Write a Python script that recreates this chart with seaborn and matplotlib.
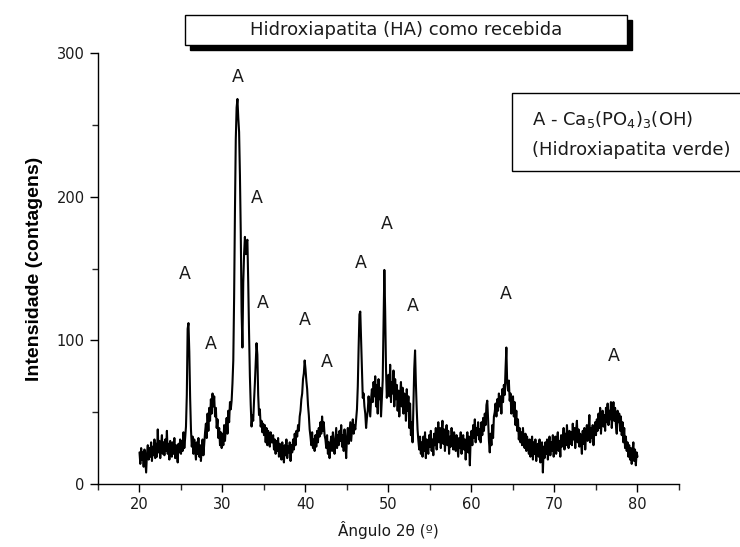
import numpy as np
import pandas as pd
import matplotlib
matplotlib.use("Agg")
import matplotlib.pyplot as plt
from matplotlib.patches import Rectangle
from matplotlib.ticker import MultipleLocator
import seaborn as sns

# ---- data: intensity, 2theta = 20.0 .. 80.0 step 0.1 ----
two_theta_start = 20.0
two_theta_step = 0.1
intensity = [
    22, 14, 25, 17, 22, 12, 24, 16, 8, 21,
    27, 17, 25, 19, 29, 16, 26, 20, 31, 18,
    28, 19, 38, 22, 30, 18, 27, 34, 21, 29,
    20, 31, 23, 37, 21, 28, 17, 30, 24, 19,
    29, 21, 32, 18, 27, 23, 15, 28, 22, 31,
    21, 30, 23, 36, 25, 32, 40, 62, 108, 112,
    92, 60, 38, 26, 33, 21, 31, 24, 17, 29,
    21, 32, 19, 27, 16, 25, 31, 20, 28, 36,
    42, 32, 49, 37, 53, 44, 59, 49, 63, 54,
    61, 47, 53, 39, 45, 32, 39, 27, 36, 25,
    35, 27, 41, 30, 39, 46, 35, 51, 43, 57,
    52, 58, 70, 86, 130, 190, 240, 262, 268, 255,
    245, 215, 175, 120, 95, 140, 160, 172, 160, 168,
    170, 140, 105, 75, 55, 40, 48, 44, 58, 70,
    85, 98, 90, 62, 48, 52, 40, 44, 36, 42,
    34, 41, 29, 39, 27, 37, 31, 26, 36, 29,
    29, 34, 24, 31, 21, 30, 23, 32, 19, 28,
    25, 17, 29, 21, 15, 27, 20, 31, 18, 26,
    22, 29, 16, 27, 22, 31, 24, 35, 27, 37,
    33, 41, 37, 47, 51, 59, 63, 73, 77, 86,
    80, 72, 66, 55, 48, 38, 33, 27, 36, 25,
    31, 23, 34, 26, 37, 29, 39, 33, 43, 35,
    47, 37, 43, 34, 31, 25, 34, 21, 29, 18,
    28, 33, 23, 36, 29, 21, 30, 39, 25, 34,
    27, 37, 30, 41, 26, 34, 23, 38, 29, 18,
    33, 39, 28, 36, 43, 30, 38, 45, 35, 41,
    38, 45, 52, 68, 95, 118, 120, 100, 80, 60,
    63, 54, 49, 39, 46, 51, 61, 54, 47, 59,
    66, 57, 71, 61, 75, 54, 69, 49, 73, 59,
    67, 47, 59, 72, 110, 149, 120, 80, 60, 70,
    76, 61, 83, 57, 71, 63, 79, 54, 73, 59,
    69, 51, 65, 47, 61, 71, 54, 67, 49, 63,
    59, 44, 66, 51, 61, 39, 56, 34, 43, 29,
    55, 80, 93, 70, 52, 38, 30, 24, 33, 21,
    29, 19, 33, 23, 36, 18, 31, 25, 21, 34,
    26, 37, 23, 31, 20, 35, 27, 39, 24, 32,
    43, 29, 39, 25, 36, 44, 28, 38, 23, 34,
    41, 27, 37, 21, 33, 26, 39, 29, 24, 36,
    31, 23, 34, 26, 19, 32, 25, 36, 21, 30,
    34, 24, 31, 17, 29, 36, 22, 33, 13, 31,
    37, 27, 41, 32, 45, 29, 39, 34, 43, 31,
    38, 29, 43, 34, 46, 37, 49, 41, 55, 58,
    45, 30, 22, 35, 27, 41, 32, 47, 50, 56,
    47, 59, 51, 63, 54, 61, 49, 66, 57, 69,
    62, 80, 95, 70, 65, 72, 58, 63, 49, 56,
    61, 47, 57, 41, 51, 37, 45, 31, 39, 29,
    36, 27, 39, 29, 25, 35, 23, 33, 27, 21,
    31, 19, 27, 33, 17, 29, 21, 31, 16, 26,
    28, 19, 31, 15, 25, 29, 8, 26, 18, 29,
    21, 31, 17, 27, 33, 20, 29, 23, 34, 19,
    27, 33, 21, 31, 36, 23, 30, 19, 34, 26,
    31, 39, 24, 35, 27, 41, 30, 25, 37, 28,
    36, 27, 42, 31, 39, 25, 37, 44, 29, 38,
    26, 35, 29, 21, 37, 28, 39, 24, 34, 41,
    30, 37, 48, 29, 39, 32, 41, 27, 37, 43,
    34, 45, 37, 49, 39, 53, 35, 46, 51, 40,
    48, 37, 53, 43, 56, 41, 51, 45, 57, 39,
    49, 57, 44, 53, 41, 35, 51, 43, 49, 37,
    47, 34, 43, 29, 39, 25, 33, 23, 29, 19,
    27, 17, 25, 14, 23, 29, 16, 24, 13, 22,
    19,
]

# peak markers "A": (2theta, intensity) of label centres
peak_x = [25.5, 28.55, 31.9, 34.1, 34.8, 39.9, 42.6, 46.7, 49.8, 52.9, 64.1, 77.2]
peak_y = [146, 97.6, 283, 199, 126, 114, 85, 154, 181, 124, 132, 89]
peak_label = "A"

title_text = "Hidroxiapatita (HA) como recebida"
legend_line1 = "A - Ca$_5$(PO$_4$)$_3$(OH)"
legend_line2 = "(Hidroxiapatita verde)"
x_label = "Ângulo 2θ (º)"
y_label = "Intensidade (contagens)"

x_ticks = [20, 30, 40, 50, 60, 70, 80]
y_ticks = [0, 100, 200, 300]

# ---- build ----
two_theta = two_theta_start + two_theta_step * np.arange(len(intensity))
df = pd.DataFrame({"two_theta": two_theta, "intensity": intensity})

sns.set_style("ticks")
plt.rcParams["font.family"] = ["DejaVu Sans"]
plt.rcParams["mathtext.default"] = "regular"
text_color = "#1a1a1a"

fig = plt.figure(figsize=(7.4, 5.47), dpi=100)
ax = fig.add_axes([98 / 740, 1 - 484 / 547, (679 - 98) / 740, (484 - 53) / 547])

sns.lineplot(data=df, x="two_theta", y="intensity", ax=ax, color="black",
             linewidth=1.5, estimator=None, sort=False)

ax.set_xlim(15, 85)
ax.set_ylim(0, 300)
ax.set_xticks(x_ticks)
ax.set_yticks(y_ticks)
ax.xaxis.set_minor_locator(MultipleLocator(5))
ax.yaxis.set_minor_locator(MultipleLocator(50))
ax.tick_params(axis="both", which="major", direction="out", length=6, width=1,
               labelsize=10.5, colors="black", labelcolor=text_color)
ax.tick_params(axis="both", which="minor", direction="out", length=4, width=1)
for s in ["top", "right"]:
    ax.spines[s].set_visible(False)
for s in ["left", "bottom"]:
    ax.spines[s].set_linewidth(1)
    ax.spines[s].set_color("black")

ax.set_xlabel(x_label, fontsize=11, labelpad=6, color=text_color)
ax.set_ylabel(y_label, fontsize=14, fontweight="bold", labelpad=10,
              family=["Liberation Sans", "DejaVu Sans"], color="black")

for px, py in zip(peak_x, peak_y):
    ax.text(px, py, peak_label, ha="center", va="center", fontsize=12.5,
            color=text_color)

# title box with shadow
fx0, fx1 = 185 / 740, 627 / 740
fy1, fy0 = 1 - 15 / 547, 1 - 45 / 547
dx, dy = 5 / 740, 5 / 547
fig.patches.append(Rectangle((fx0 + dx, fy0 - dy), fx1 - fx0, fy1 - fy0,
                             transform=fig.transFigure, facecolor="black",
                             edgecolor="black", zorder=1))
fig.patches.append(Rectangle((fx0, fy0), fx1 - fx0, fy1 - fy0,
                             transform=fig.transFigure, facecolor="white",
                             edgecolor="black", linewidth=1, zorder=2))
fig.text((fx0 + fx1) / 2, (fy0 + fy1) / 2, title_text, ha="center",
         va="center", fontsize=13, zorder=3, color=text_color)

# legend box (clipped by right edge)
lx0 = 512 / 740
ly1, ly0 = 1 - 93 / 547, 1 - 171 / 547
fig.patches.append(Rectangle((lx0, ly0), 1.2 - lx0, ly1 - ly0,
                             transform=fig.transFigure, facecolor="white",
                             edgecolor="black", linewidth=1, zorder=2))
fig.text(532 / 740, 1 - 119 / 547, legend_line1, ha="left", va="center",
         fontsize=13, zorder=3, color=text_color)
fig.text(532 / 740, 1 - 150 / 547, legend_line2, ha="left", va="center",
         fontsize=13, zorder=3, color=text_color)

fig.savefig("out.png", dpi=100)
